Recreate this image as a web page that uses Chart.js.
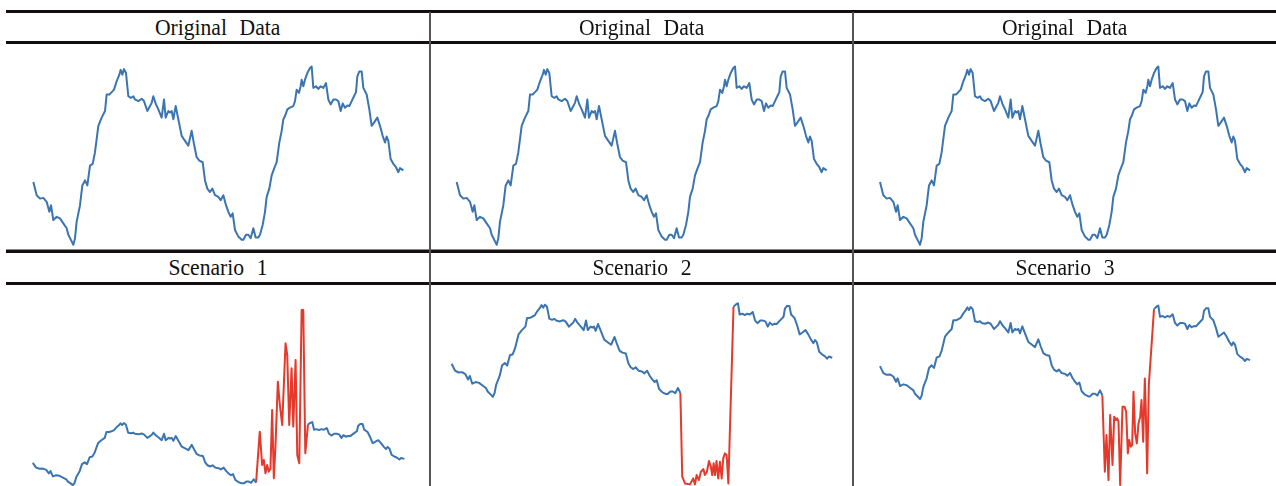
<!DOCTYPE html>
<html>
<head>
<meta charset="utf-8">
<script src="https://cdn.jsdelivr.net/npm/chart.js@4.4.1/dist/chart.umd.min.js"></script>
<style>
  html, body { margin: 0; padding: 0; background: #fff; width: 1276px; height: 486px; overflow: hidden; }
  #wrap { position: relative; width: 1276px; height: 486px; overflow: hidden; }
  .hline { position: absolute; left: 6px; width: 1270px; height: 3px; background: #140e0e; }
  .hline.gray { height: 1px; background: #8a8a8a; }
  .vline { position: absolute; width: 2px; background: #555; }
  .title { position: absolute; height: 28px; display: flex; align-items: center; justify-content: center;
           font-family: "Liberation Serif", "Times New Roman", serif; font-size: 24px; color: #111;
           word-spacing: 8px; }
  .title span { display: inline-block; transform: scaleX(0.9); white-space: nowrap; }
  canvas { position: absolute; }
</style>
</head>
<body>
<div id="wrap"></div>
<script>
// ---------------- data ----------------
const topTitles = ['Original Data', 'Original Data', 'Original Data'];
const scenarioTitles = ['Scenario 1', 'Scenario 2', 'Scenario 3'];

const timeIndex = [0,2,4,6,8,9.6,10.6,12,14,16,18,20,21,23,24,25,26,28,29.4,31,32.4,34,35.6,37,39,41,43,44,45.6,47,48.4,50,51.6,52.4,53.4,54.4,55.6,57,58.6,60,61,63,65,66.4,68.4,70,71,72,73.6,75,77,78.4,79.4,81,82,83,84,85.4,87,89,91,93,95,96.4,98,99.6,101.6,103,104.4,106,107.4,109,111,112.4,114,115.6,117,118.4,119.6,121,123,125,126,127.6,129,130.4,132,133.4,135,136,137.6,139,140,141.6,143,144.4,146,147.6,149,150,151,152.4,154,156,157,158,159.4,160.4,161,162,163,164.4,166,167,168,169.6,171,172.4,174,175.6,177,178.4,180,181.6,183,184.4,185.6,187,188.4,189.6,191,192.4,193.6,194.4,195.6,197,198,200,201.6,203,204.4,206.4,208,209.6,211,212,213,214.4,216,217.6,219,220,222];
const originalValues = [35.2,27.8,25.9,26.3,24.1,18.5,22.2,13.9,15.7,14.8,12.0,9.3,5.6,1.9,0,3.7,13.0,22.2,33.3,36.1,33.3,44.4,45.4,51.9,66.7,71.3,75.0,84.3,84.3,85.6,87.0,91.7,95.4,98.1,95.4,98.5,96.3,83.3,82.4,83.3,81.5,80.6,81.9,80.6,75.0,77.8,79.6,83.3,78.7,75.9,71.3,81.5,71.3,75.0,74.1,75.0,70.4,77.8,70.4,61.1,58.3,55.6,63.9,56.5,49.1,47.2,46.3,36.1,31.5,29.6,31.5,27.8,26.9,25.0,27.8,22.2,18.5,15.7,17.6,8.3,4.6,2.8,2.8,5.6,5.6,3.7,9.3,4.1,4.1,5.6,11.1,18.5,26.9,31.5,38.9,42.6,46.3,57.4,63.9,70.4,72.2,75.9,76.9,77.8,80.6,87.0,85.2,88.9,92.6,88.9,92.6,96.3,99.1,100,88.0,88.9,87.4,88.9,88.0,90.7,81.5,78.7,81.5,81.5,80.6,75.0,79.3,76.9,78.1,77.8,80.6,83.3,85.6,94.4,97.2,97.2,88.0,84.3,75.9,66.7,68.5,71.3,66.7,61.1,57.4,60.7,58.3,48.1,45.4,43.5,40.7,43.0,41.7];

// anomaly window (time index where the original series is replaced)
const anomalyStart = 133.4;
const anomalyEnd = 164.4;

const scenario1Time = [135.6,137,138,139,140,141,142,143,144,145,146.4,147.6,149,151,152,153.2,154.6,155.6,157,158,159.2,160.6,161.6,162.8];
const scenario1Values = [84.9,32.0,39.9,18.8,32.0,21.4,26.7,119.3,10.8,63.8,164.3,127.2,95.5,225.1,206.6,95.5,185.4,92.9,198.7,47.9,34.7,278.0,278.0,50.5];

const scenario2Time = [134.5,136.1,139.0,140.9,141.9,142.9,144.2,145.4,146.8,147.7,148.9,150.1,151.2,152.0,152.8,153.6,154.5,155.5,156.5,157.5,158.4,159.4,160.4,161.4];
const scenario2Values = [-85.7,-92.9,-93.9,-87.5,-93.9,-83.9,-89.3,-80.4,-77.5,-83.9,-80.4,-68.9,-75.0,-83.9,-71.4,-83.9,-68.9,-87.5,-69.6,-87.5,-66.1,-60.7,-62.5,-92.9];

const scenario3Time = [134.9,135.9,137.1,138.1,139.5,140.5,141.5,142.3,143.1,144.1,145.5,146.7,147.7,148.7,149.5,150.5,151.3,152.1,153.1,154.1,155.1,156.1,156.9,157.9,158.9,159.5,160.3,161.3];
const scenario3Values = [-77.9,-38.6,-86.8,-17.1,-70.7,-18.9,-22.5,-20.7,-24.3,-92.1,-8.2,-8.2,-13.6,-58.2,-43.9,-51.1,-49.3,7.9,-36.8,-47.5,-26.1,-18.9,-1.1,-45.7,22.1,-13.6,-79.6,15.0];

// ---------------- layout ----------------
const BLUE = '#3b75b1';
const RED = '#e5392b';
const wrap = document.getElementById('wrap');
function div(cls, css, html) {
  const d = document.createElement('div');
  d.className = cls;
  Object.assign(d.style, css);
  if (html) d.innerHTML = html;
  wrap.appendChild(d);
  return d;
}
const cols = [{left: 6, width: 423}, {left: 431, width: 422}, {left: 854, width: 422}];

function makeCanvas(left, top, w, h) {
  const cv = document.createElement('canvas');
  cv.width = w; cv.height = h;
  cv.style.left = left + 'px'; cv.style.top = top + 'px';
  cv.style.width = w + 'px'; cv.style.height = h + 'px';
  wrap.appendChild(cv);
  return cv;
}

function pts(ts, vs) { return ts.map((t, i) => ({x: t, y: vs[i]})); }

function drawChart(cv, datasets, xr, yr) {
  new Chart(cv.getContext('2d'), {
    type: 'line',
    data: {datasets},
    options: {
      responsive: false, animation: false, devicePixelRatio: 1,
      layout: {padding: 0},
      plugins: {legend: {display: false}, tooltip: {enabled: false}},
      elements: {point: {radius: 0}, line: {tension: 0, borderWidth: 2, borderJoinStyle: 'round'}},
      scales: {
        x: {type: 'linear', display: false, min: xr[0], max: xr[1]},
        y: {type: 'linear', display: false, min: yr[0], max: yr[1]}
      }
    }
  });
}

// top row: original data
const origPts = pts(timeIndex, originalValues);
const topX = [[-16.4, 237.4], [-15.4, 237.8], [-15.6, 237.6]];
cols.forEach((c, i) => {
  const cv = makeCanvas(c.left, 44, c.width, 204);
  drawChart(cv, [{data: origPts, borderColor: BLUE, spanGaps: false}], topX[i], [-1.8, 112.6]);
});

// bottom row: scenarios
const startIdx = timeIndex.indexOf(anomalyStart);
const endIdx = timeIndex.indexOf(anomalyEnd);
const blueScenario = [];
timeIndex.forEach((t, i) => {
  if (t <= anomalyStart || t >= anomalyEnd) blueScenario.push({x: t, y: originalValues[i]});
  if (i === startIdx) blueScenario.push({x: (anomalyStart + anomalyEnd) / 2, y: null});
});
function redPts(ts, vs) {
  return [{x: anomalyStart, y: originalValues[startIdx]}]
    .concat(pts(ts, vs))
    .concat([{x: anomalyEnd, y: originalValues[endIdx]}]);
}
const scen = [
  {t: scenario1Time, v: scenario1Values, x: [-16.0, 236.7], y: [-63.3, 317.7]},
  {t: scenario2Time, v: scenario2Values, x: [-12.05, 234.1], y: [-137.4, 119.6]},
  {t: scenario3Time, v: scenario3Values, x: [-15.6, 237.6], y: [-134.9, 122.1]}
];
cols.forEach((c, i) => {
  const cv = makeCanvas(c.left, 285, c.width, 240);
  const s = scen[i];
  drawChart(cv, [
    {data: blueScenario, borderColor: BLUE, spanGaps: false},
    {data: redPts(s.t, s.v), borderColor: RED, spanGaps: false}
  ], s.x, s.y);
});

// rules (drawn over the canvases)
div('hline', {top: '10px'});
div('hline', {top: '41px'});
div('hline gray', {top: '249px'});
div('hline', {top: '250px'});
div('hline', {top: '282px'});
div('vline', {left: '429px', top: '12px', height: '474px'});
div('vline', {left: '852px', top: '12px', height: '474px'});

cols.forEach((c, i) => {
  div('title', {left: c.left + 'px', width: c.width + 'px', top: '13px'}, '<span>' + topTitles[i] + '</span>');
  div('title', {left: c.left + 'px', width: c.width + 'px', top: '253px'}, '<span>' + scenarioTitles[i] + '</span>');
});
</script>
</body>
</html>
